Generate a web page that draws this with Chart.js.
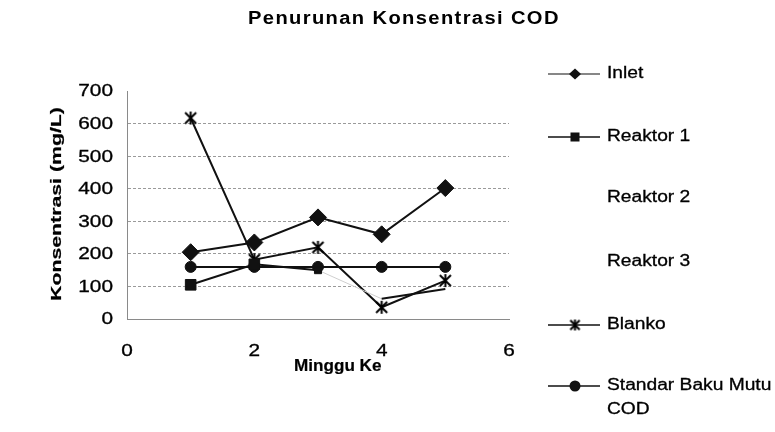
<!DOCTYPE html>
<html>
<head>
<meta charset="utf-8">
<script src="https://cdn.jsdelivr.net/npm/chart.js@4.4.0/dist/chart.umd.min.js"></script>
<style>
html,body{margin:0;padding:0;background:#fff;}
#wrap{width:775px;height:432px;position:relative;overflow:hidden;}
canvas{display:block;}
</style>
</head>
<body>
<div id="wrap"><canvas id="c" width="775" height="432"></canvas></div>
<script>
// ---- data ----
const weeks = [1, 2, 3, 4, 5];
const inlet = [205, 235, 312, 260, 402];
const reaktor1 = [105, 168, 150, 62, 92];
const reaktor2 = [110, 170, 145, 60, 90];
const reaktor3 = [112, 172, 148, 64, 95];
const blanko = [617, 182, 220, 36, 118];
const standar = [160, 160, 160, 160, 160];
const seriesNames = ['Inlet', 'Reaktor 1', 'Reaktor 2', 'Reaktor 3', 'Blanko', 'Standar Baku Mutu COD'];
const xTicks = [0, 2, 4, 6];
const yTicks = [0, 100, 200, 300, 400, 500, 600, 700];
const titleText = 'Penurunan Konsentrasi COD';
const xTitle = 'Minggu Ke';
const yTitle = 'Konsentrasi (mg/L)';

const FONT = '"Liberation Sans", Arial, sans-serif';

function asterisk(size) {
  const c = document.createElement('canvas');
  c.width = size; c.height = size;
  const g = c.getContext('2d');
  g.strokeStyle = '#000'; g.lineWidth = 2;
  const m = size / 2, r = size / 2 - 1;
  g.beginPath();
  g.moveTo(m - r * 0.85, m - r * 0.85); g.lineTo(m + r * 0.85, m + r * 0.85);
  g.moveTo(m + r * 0.85, m - r * 0.85); g.lineTo(m - r * 0.85, m + r * 0.85);
  g.moveTo(m, m - r); g.lineTo(m, m + r);
  g.stroke();
  return c;
}
const star = asterisk(15);
const starSmall = asterisk(13);

const pts = arr => weeks.map((w, i) => ({x: w, y: arr[i]}));

const datasets = [
  {label: seriesNames[0], data: pts(inlet), borderColor: '#111', backgroundColor: '#111', pointStyle: 'rectRot', pointRadius: 8.5, pointBorderWidth: 1, borderWidth: 2},
  {label: seriesNames[1], data: pts(reaktor1), borderColor: '#111', backgroundColor: '#111', pointStyle: 'rect', pointRadius: [7.5, 7.5, 5, 0, 0], pointBorderWidth: 1, borderWidth: 2,
   segment: {borderColor: ctx => ctx.p0DataIndex === 2 ? '#cfcfcf' : '#111', borderWidth: ctx => ctx.p0DataIndex === 2 ? 1 : 2}},
  {label: seriesNames[2], data: pts(reaktor2), borderColor: 'rgba(255,255,255,0)', backgroundColor: 'rgba(255,255,255,0)', pointRadius: 0, borderWidth: 1},
  {label: seriesNames[3], data: pts(reaktor3), borderColor: 'rgba(255,255,255,0)', backgroundColor: 'rgba(255,255,255,0)', pointRadius: 0, borderWidth: 1},
  {label: seriesNames[4], data: pts(blanko), borderColor: '#111', backgroundColor: '#111', pointStyle: star, pointRadius: 7, borderWidth: 2},
  {label: seriesNames[5], data: pts(standar), borderColor: '#111', backgroundColor: '#111', pointStyle: 'circle', pointRadius: 5.5, pointBorderWidth: 1, borderWidth: 2}
];

const LEFT = 127, RIGHT = 509, TOP = 91, BOTTOM = 319;

// draw text with stretch sx along the text direction
function txt(ctx, s, x, y, font, sx, align, stroke) {
  ctx.save();
  ctx.font = font;
  ctx.translate(x, y);
  ctx.scale(sx, 1);
  ctx.textAlign = align;
  ctx.textBaseline = 'middle';
  ctx.fillStyle = '#000';
  ctx.fillText(s, 0, 0);
  if (stroke) { ctx.strokeStyle = '#000'; ctx.lineWidth = stroke; ctx.strokeText(s, 0, 0); }
  ctx.restore();
}

const textPlugin = {
  id: 'texts',
  afterDatasetsDraw(chart) {
    const ctx = chart.ctx;
    const xs = chart.scales.x, ys = chart.scales.y;
    ctx.save();
    // tick labels
    const tf = '16px ' + FONT;
    yTicks.forEach(v => txt(ctx, String(v), 113, ys.getPixelForValue(v) + 1, tf, 1.3, 'right', 0.3));
    xTicks.forEach(v => txt(ctx, String(v), xs.getPixelForValue(v), 352, tf, 1.3, 'center', 0.3));
    // title
    ctx.save();
    ctx.letterSpacing = '1.2px';
    txt(ctx, titleText, 248, 19, 'bold 17.5px ' + FONT, 1.15, 'left', 0);
    ctx.restore();
    // x title
    txt(ctx, xTitle, 294, 367, 'bold 16px ' + FONT, 1.07, 'left', 0.2);
    // y title (rotated)
    ctx.save();
    ctx.translate(57, 204);
    ctx.rotate(-Math.PI / 2);
    txt(ctx, yTitle, 0, 0, 'bold 14px ' + FONT, 1.52, 'center', 0.2);
    ctx.restore();
    // legend
    const ly = [74, 137, 198, 262, 325, 386];
    const lf = '16px ' + FONT;
    const ds = chart.data.datasets;
    for (let i = 0; i < ds.length; i++) {
      const y = ly[i];
      const visible = i !== 2 && i !== 3;
      if (visible) {
        ctx.strokeStyle = '#111';
        ctx.lineWidth = i === 0 ? 1.2 : 1.6;
        ctx.beginPath(); ctx.moveTo(548, y); ctx.lineTo(600, y); ctx.stroke();
        ctx.fillStyle = '#111';
        const mx = 575;
        if (i === 0) { ctx.beginPath(); ctx.moveTo(mx, y - 5.5); ctx.lineTo(mx + 6, y); ctx.lineTo(mx, y + 5.5); ctx.lineTo(mx - 6, y); ctx.closePath(); ctx.fill(); }
        else if (i === 1) { ctx.fillRect(mx - 4.5, y - 4.5, 9, 9); }
        else if (i === 4) { ctx.drawImage(starSmall, mx - 6.5, y - 6.5); }
        else if (i === 5) { ctx.beginPath(); ctx.arc(mx, y, 5.5, 0, Math.PI * 2); ctx.fill(); }
      }
      if (i === 5) {
        txt(ctx, 'Standar Baku Mutu', 607, y, lf, 1.2, 'left', 0.3);
        txt(ctx, 'COD', 607, y + 24, lf, 1.2, 'left', 0.3);
      } else {
        txt(ctx, ds[i].label, 607, y, lf, 1.2, 'left', 0.3);
      }
    }
    ctx.restore();
  }
};

new Chart(document.getElementById('c'), {
  type: 'line',
  data: {datasets},
  options: {
    responsive: false,
    animation: false,
    layout: {padding: {top: TOP, right: 775 - RIGHT, left: 0, bottom: 0}},
    plugins: {legend: {display: false}, title: {display: false}, tooltip: {enabled: false}},
    elements: {line: {tension: 0}},
    scales: {
      x: {
        type: 'linear', min: 0, max: 6,
        afterFit: s => { s.height = 432 - BOTTOM; },
        afterBuildTicks: s => { s.ticks = xTicks.map(v => ({value: v})); },
        grid: {display: false, drawTicks: false},
        border: {display: true, color: '#8a8a8a', dash: [3, 2]},
        ticks: {display: false}
      },
      y: {
        min: 0, max: 700,
        afterFit: s => { s.width = LEFT; },
        afterBuildTicks: s => { s.ticks = yTicks.map(v => ({value: v})); },
        grid: {color: c => (c.tick && c.tick.value === 700) ? 'rgba(0,0,0,0)' : '#9a9a9a', drawTicks: false, lineWidth: 1},
        border: {display: true, color: '#8a8a8a', dash: [3, 2]},
        ticks: {display: false}
      }
    }
  },
  plugins: [textPlugin]
});
</script>
</body>
</html>
